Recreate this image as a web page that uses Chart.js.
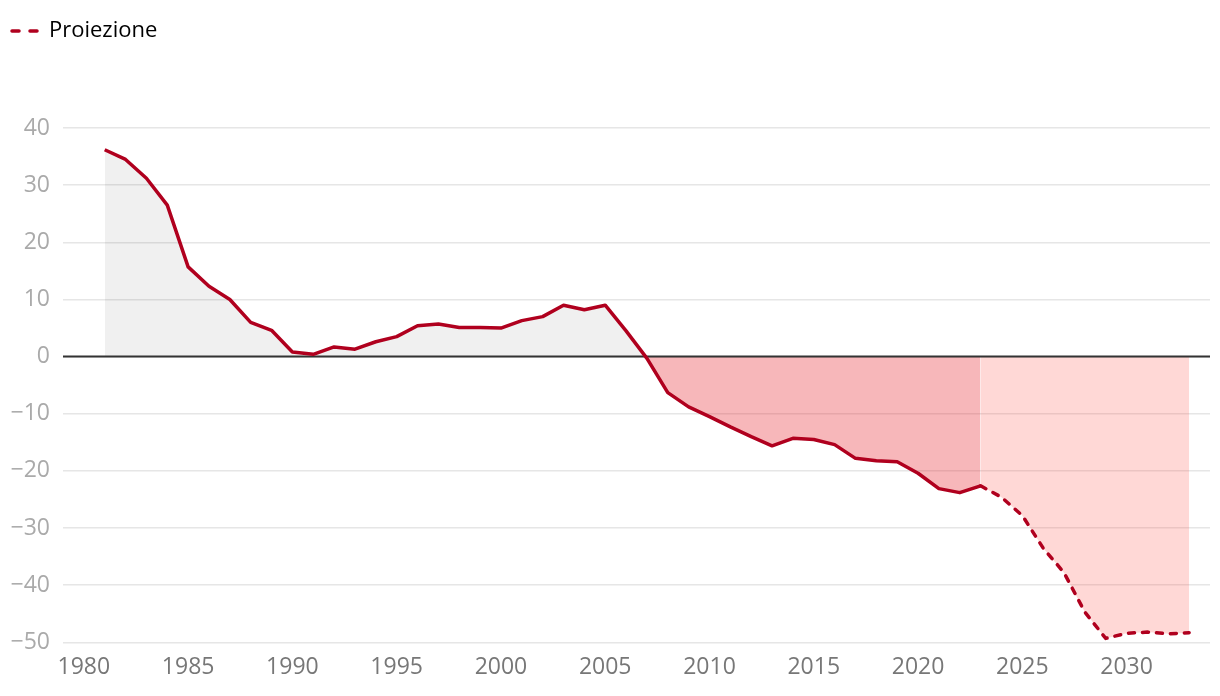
<!DOCTYPE html>
<html lang="it">
<head>
<meta charset="utf-8">
<title>Proiezione</title>
<script src="https://cdn.jsdelivr.net/npm/chart.js@4.4.1/dist/chart.umd.min.js"></script>
<style>
  html, body { margin: 0; padding: 0; background: #fff; }
  #wrap { width: 1220px; height: 696px; }
</style>
</head>
<body>
<div id="wrap"><canvas id="chart" width="1220" height="696"></canvas></div>
<script>
// Historical series
const histYears = [1981, 1982, 1983, 1984, 1985, 1986, 1987, 1988, 1989, 1990,
  1991, 1992, 1993, 1994, 1995, 1996, 1997, 1998, 1999, 2000,
  2001, 2002, 2003, 2004, 2005, 2006, 2007, 2008, 2009, 2010,
  2011, 2012, 2013, 2014, 2015, 2016, 2017, 2018, 2019, 2020,
  2021, 2022, 2023];
const histValues = [36.2, 34.5, 31.2, 26.5, 15.7, 12.3, 10.0, 6.0, 4.6, 0.8,
  0.4, 1.7, 1.3, 2.6, 3.5, 5.4, 5.7, 5.1, 5.1, 5.0,
  6.3, 7.0, 9.0, 8.2, 9.0, 4.5, -0.3, -6.3, -8.8, -10.5,
  -12.3, -14.0, -15.6, -14.3, -14.5, -15.4, -17.8, -18.2, -18.4, -20.4,
  -23.1, -23.8, -22.6];

// Projection series
const projYears = [2023, 2024, 2025, 2026, 2027, 2028, 2029, 2030, 2031, 2032, 2033];
const projValues = [-22.6, -24.6, -27.8, -33.5, -37.8, -44.7, -49.3, -48.4, -48.2, -48.5, -48.3];

// Axis ticks
const xTicks = [1980, 1985, 1990, 1995, 2000, 2005, 2010, 2015, 2020, 2025, 2030];
const yTicks = [40, 30, 20, 10, 0, -10, -20, -30, -40, -50];

const lineRed = "#b0001e";
const fontFamily = "'Open Sans', 'Noto Sans', sans-serif";

const toPoints = (xs, ys) => xs.map((x, i) => ({ x: x, y: ys[i] }));

// Push the plot area down below the legend
const legendGap = {
  id: "legendGap",
  beforeInit(chart) {
    const fit = chart.legend.fit;
    chart.legend.fit = function () {
      fit.bind(chart.legend)();
      this.height += 76;
    };
  },
};

// Zero baseline drawn above the fills, below the lines
const zeroLine = {
  id: "zeroLine",
  beforeDatasetsDraw(chart) {
    const { ctx, chartArea, scales } = chart;
    const y = scales.y.getPixelForValue(0);
    ctx.save();
    ctx.strokeStyle = "#333";
    ctx.lineWidth = 2;
    ctx.beginPath();
    ctx.moveTo(chartArea.left, y);
    ctx.lineTo(chartArea.right, y);
    ctx.stroke();
    ctx.restore();
  },
};

new Chart(document.getElementById("chart"), {
  type: "line",
  data: {
    datasets: [
      {
        label: "Storico",
        data: toPoints(histYears, histValues),
        borderColor: lineRed,
        borderWidth: 3.5,
        pointRadius: 0,
        tension: 0,
        borderJoinStyle: "round",
        fill: {
          target: "origin",
          above: "rgba(0, 0, 0, 0.06)",
          below: "rgba(230, 30, 40, 0.32)",
        },
        order: 1,
      },
      {
        label: "Proiezione",
        data: toPoints(projYears, projValues),
        borderColor: lineRed,
        backgroundColor: lineRed,
        borderWidth: 3.5,
        borderDash: [6, 8],
        borderCapStyle: "round",
        pointRadius: 0,
        tension: 0,
        fill: {
          target: "origin",
          above: "rgba(255, 60, 50, 0.2)",
          below: "rgba(255, 60, 50, 0.2)",
        },
        order: 2,
      },
    ],
  },
  options: {
    responsive: false,
    animation: false,
    layout: {
      padding: { top: 10, right: 10, bottom: 4, left: 0 },
    },
    plugins: {
      filler: { drawTime: "beforeDatasetsDraw" },
      tooltip: { enabled: false },
      legend: {
        position: "top",
        align: "start",
        labels: {
          usePointStyle: true,
          pointStyle: "line",
          pointStyleWidth: 28,
          boxHeight: 4,
          color: "#333",
          font: { family: fontFamily, size: 22 },
          padding: 10,
          generateLabels: () => [
            {
              text: "Proiezione",
              datasetIndex: 1,
              hidden: false,
              pointStyle: "line",
              strokeStyle: lineRed,
              fillStyle: lineRed,
              lineWidth: 3.5,
              lineCap: "round",
              lineDash: [7, 11],
              lineDashOffset: 16,
            },
          ],
        },
      },
    },
    scales: {
      x: {
        type: "linear",
        min: 1979,
        max: 2034,
        afterBuildTicks: (scale) => {
          scale.ticks = xTicks.map((v) => ({ value: v }));
        },
        grid: { display: false, drawTicks: false },
        border: { display: false },
        ticks: {
          color: "#777",
          padding: 11,
          maxRotation: 0,
          font: { family: fontFamily, size: 23 },
          callback: (value) => String(value),
        },
      },
      y: {
        min: -50,
        max: 40,
        afterBuildTicks: (scale) => {
          scale.ticks = yTicks.map((v) => ({ value: v }));
        },
        afterFit: (scale) => {
          scale.width = 63;
        },
        border: { display: false },
        grid: {
          color: "#e6e6e6",
          lineWidth: 1.5,
          drawTicks: false,
        },
        ticks: {
          color: "#aaa",
          padding: 13,
          font: { family: fontFamily, size: 23 },
          callback: (value) => (value < 0 ? "\u2212" + Math.abs(value) : String(value)),
        },
      },
    },
  },
  plugins: [legendGap, zeroLine],
});
</script>
</body>
</html>
